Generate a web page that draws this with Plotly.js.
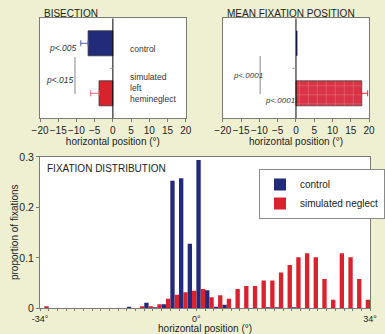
<!DOCTYPE html>
<html>
<head>
<meta charset="utf-8">
<script src="https://cdn.plot.ly/plotly-3.0.1.min.js"></script>
<style>
html,body{margin:0;padding:0;background:#eff0d2;}
#chart{width:385px;height:334px;}
</style>
</head>
<body>
<div id="chart"></div>
<script>
// ---- data ----
var groupNames = ['control', 'simulated neglect'];
var groupPos = [1, 0];

// Bisection (horizontal position, deg) and left-side error
var bisectionValues = [-6.8, -3.8];
var bisectionErrMinus = [2.0, 2.3];

// Mean fixation position (deg) and error
var meanFixValues = [0.4, 18.0];
var meanFixErr = [0, 1.6];

// Fixation distribution histogram (38 bins from -34 deg to 34 deg)
var binIndex = [0,1,2,3,4,5,6,7,8,9,10,11,12,13,14,15,16,17,18,19,20,21,22,23,24,25,26,27,28,29,30,31,32,33,34,35,36,37];
var controlDist = [0,0,0,0,0,0,0,0,0,0,0.003,0,0.011,0.002,0.008,0.253,0.258,0.128,0.294,0.036,0.003,0.007,0,0,0,0,0.002,0.002,0,0.002,0,0,0,0,0,0,0,0];
var neglectDist = [0.004,0,0,0,0,0,0,0,0,0,0,0.004,0.004,0.008,0.019,0.027,0.032,0.035,0.038,0.022,0.026,0.019,0.038,0.044,0.044,0.055,0.055,0.071,0.086,0.101,0.109,0.101,0.058,0.017,0.109,0.101,0.058,0.017];

var topTicks = [-20,-15,-10,-5,0,5,10,15,20];
var distTickVals = [];
var distTickText = [];
for (var i = 0; i <= binIndex.length; i++) {
  distTickVals.push(i - 0.5);
  distTickText.push(i === 0 ? '-34°' : (i === 18 ? '0°' : (i === binIndex.length ? '34°' : '')));
}
var distYTicks = [0, 0.1, 0.2, 0.3];
var distYText = ['0', '0.1', '0.2', '0.3'];

// ---- styles ----
var BLUE = '#222b7a';
var RED = '#d8232f';
var FONT = 'Liberation Sans, Arial, sans-serif';
var FRAME = '#7a7a7a';

var traces = [
  {type:'bar', orientation:'h', x:[bisectionValues[0]], y:[groupPos[0]], width:0.5, offset:-0.25,
   marker:{color:BLUE, line:{color:'#333', width:0.8}}, xaxis:'x', yaxis:'y', showlegend:false,
   error_x:{type:'data', symmetric:false, array:[0], arrayminus:[bisectionErrMinus[0]], color:'#5560a8', thickness:1, width:3}},
  {type:'bar', orientation:'h', x:[bisectionValues[1]], y:[groupPos[1]], width:0.5, offset:-0.25,
   marker:{color:RED, line:{color:'#333', width:0.8}}, xaxis:'x', yaxis:'y', showlegend:false,
   error_x:{type:'data', symmetric:false, array:[0], arrayminus:[bisectionErrMinus[1]], color:'#ec6a78', thickness:1, width:3}},
  {type:'bar', orientation:'h', x:[meanFixValues[0]], y:[groupPos[0]], width:0.5, offset:-0.25,
   marker:{color:BLUE, line:{width:0}}, xaxis:'x2', yaxis:'y2', showlegend:false},
  {type:'bar', orientation:'h', x:[meanFixValues[1]], y:[groupPos[1]], width:0.5, offset:-0.25,
   marker:{color:'#d93446', line:{color:'#444', width:0.8},
           pattern:{shape:'+', fgcolor:'rgba(255,255,255,0.45)', bgcolor:'#d93446', size:9, solidity:0.08}},
   xaxis:'x2', yaxis:'y2', showlegend:false,
   error_x:{type:'data', array:[meanFixErr[1]], color:'#e8283a', thickness:1, width:3}},
  {type:'bar', name:groupNames[0], x:binIndex, y:controlDist, width:0.5, offset:-0.5,
   marker:{color:BLUE, line:{width:0}}, xaxis:'x3', yaxis:'y3'},
  {type:'bar', name:groupNames[1], x:binIndex, y:neglectDist, width:0.5, offset:0,
   marker:{color:RED, line:{width:0}}, xaxis:'x3', yaxis:'y3'}
];

function topX(domain){
  return {domain:domain, range:[-20,20], tickvals:topTicks, ticks:'outside', ticklen:3, tickcolor:FRAME,
    showline:true, mirror:true, linecolor:FRAME, linewidth:1, showgrid:false, zeroline:false,
    tickangle:0, tickfont:{size:10, color:'#222'}, automargin:false,
    title:{text:'horizontal position (°)', font:{size:10, color:'#222'}, standoff:1}};
}
function topY(domain, anchor){
  return {domain:domain, range:[-0.5,1.5], showticklabels:false, ticks:'', showgrid:false, zeroline:false,
    showline:true, mirror:true, linecolor:FRAME, linewidth:1, anchor:anchor, automargin:false, fixedrange:true};
}

var yTop = [0.6458, 0.9452];
var layout = {
  width:385, height:334,
  margin:{l:0, r:0, t:0, b:0},
  paper_bgcolor:'#eff0d2', plot_bgcolor:'#ffffff',
  font:{family:FONT, size:10, color:'#222'},
  barmode:'overlay',
  xaxis: Object.assign(topX([0.1073, 0.4979]), {anchor:'y'}),
  yaxis: topY(yTop, 'x'),
  xaxis2: Object.assign(topX([0.5974, 0.9896]), {anchor:'y2'}),
  yaxis2: topY(yTop, 'x2'),
  xaxis3: {domain:[0.1073, 0.9922], anchor:'y3', range:[-0.5, 37.5], tickvals:distTickVals, ticktext:distTickText,
    ticks:'outside', ticklen:2, tickcolor:FRAME, showline:true, mirror:true, linecolor:FRAME, linewidth:1,
    showgrid:false, zeroline:false, tickangle:0, tickfont:{size:9, color:'#222'}, automargin:false,
    title:{text:'horizontal position (°)', font:{size:10, color:'#222'}, standoff:4}},
  yaxis3: {domain:[0.077, 0.530], anchor:'x3', range:[0, 0.3], tickvals:distYTicks, ticktext:distYText,
    ticks:'outside', ticklen:3, tickcolor:FRAME, showline:true, mirror:true, linecolor:FRAME, linewidth:1,
    showgrid:false, zeroline:false, tickfont:{size:10.5, color:'#222'}, automargin:false},
  legend:{x:0.695, y:0.494, xanchor:'left', yanchor:'top', bgcolor:'#ffffff', bordercolor:'#8a8a8a', borderwidth:1,
    font:{size:10, color:'#222'}, tracegroupgap:0},
  shapes:[
    {type:'line', xref:'x', yref:'y', x0:0, x1:0, y0:-0.5, y1:1.5, line:{color:'#000', width:1}, layer:'above'},
    {type:'line', xref:'x2', yref:'y2', x0:0, x1:0, y0:-0.5, y1:1.5, line:{color:'#000', width:1}, layer:'above'},
    {type:'line', xref:'x', yref:'y', x0:-0.8, x1:0, y0:0.5, y1:0.5, line:{color:'#999', width:1}},
    {type:'line', xref:'x2', yref:'y2', x0:-1, x1:0, y0:0.5, y1:0.5, line:{color:'#999', width:1}},
    {type:'line', xref:'x', yref:'y', x0:-10.4, x1:-10.4, y0:-0.014, y1:0.726, line:{color:'#888', width:1}},
    {type:'line', xref:'x2', yref:'y2', x0:-9.8, x1:-9.8, y0:-0.014, y1:0.746, line:{color:'#888', width:1}}
  ],
  annotations:[
    {xref:'paper', yref:'paper', x:43/385, y:1-13/334, xanchor:'left', yanchor:'middle', text:'BISECTION', showarrow:false, font:{size:10, color:'#222'}},
    {xref:'paper', yref:'paper', x:232/385, y:1-13/334, xanchor:'left', yanchor:'middle', text:'MEAN FIXATION POSITION', showarrow:false, font:{size:10, color:'#222'}},
    {xref:'paper', yref:'paper', x:46/385, y:1-168/334, xanchor:'left', yanchor:'middle', text:'FIXATION DISTRIBUTION', showarrow:false, font:{size:10, color:'#222'}},
    {xref:'paper', yref:'paper', x:15/385, y:1-232.5/334, xanchor:'center', yanchor:'middle', textangle:-90, text:'proportion of fixations', showarrow:false, font:{size:10, color:'#222'}},
    {xref:'x', yref:'y', x:-9.2, y:0.9, xanchor:'right', yanchor:'middle', text:'<i>p<.005</i>', showarrow:false, font:{size:8.5, color:'#333'}},
    {xref:'x', yref:'y', x:-10.1, y:0.27, xanchor:'right', yanchor:'middle', text:'<i>p<.015</i>', showarrow:false, font:{size:8.5, color:'#333'}},
    {xref:'x', yref:'y', x:4.2, y:0.886, xanchor:'left', yanchor:'middle', text:'control', showarrow:false, font:{size:8.5, color:'#333'}},
    {xref:'x', yref:'y', x:4.2, y:0.11, xanchor:'left', yanchor:'middle', align:'left', text:'simulated<br>left<br>hemineglect', showarrow:false, font:{size:8.5, color:'#333'}},
    {xref:'x2', yref:'y2', x:-8.6, y:0.35, xanchor:'right', yanchor:'middle', text:'<i>p<.0001</i>', showarrow:false, font:{size:8, color:'#333'}},
    {xref:'x2', yref:'y2', x:0.2, y:-0.15, xanchor:'right', yanchor:'middle', text:'<i>p<.0001</i>', showarrow:false, font:{size:8, color:'#333'}}
  ]
};

Plotly.newPlot('chart', traces, layout, {staticPlot:true, displayModeBar:false});
</script>
</body>
</html>
